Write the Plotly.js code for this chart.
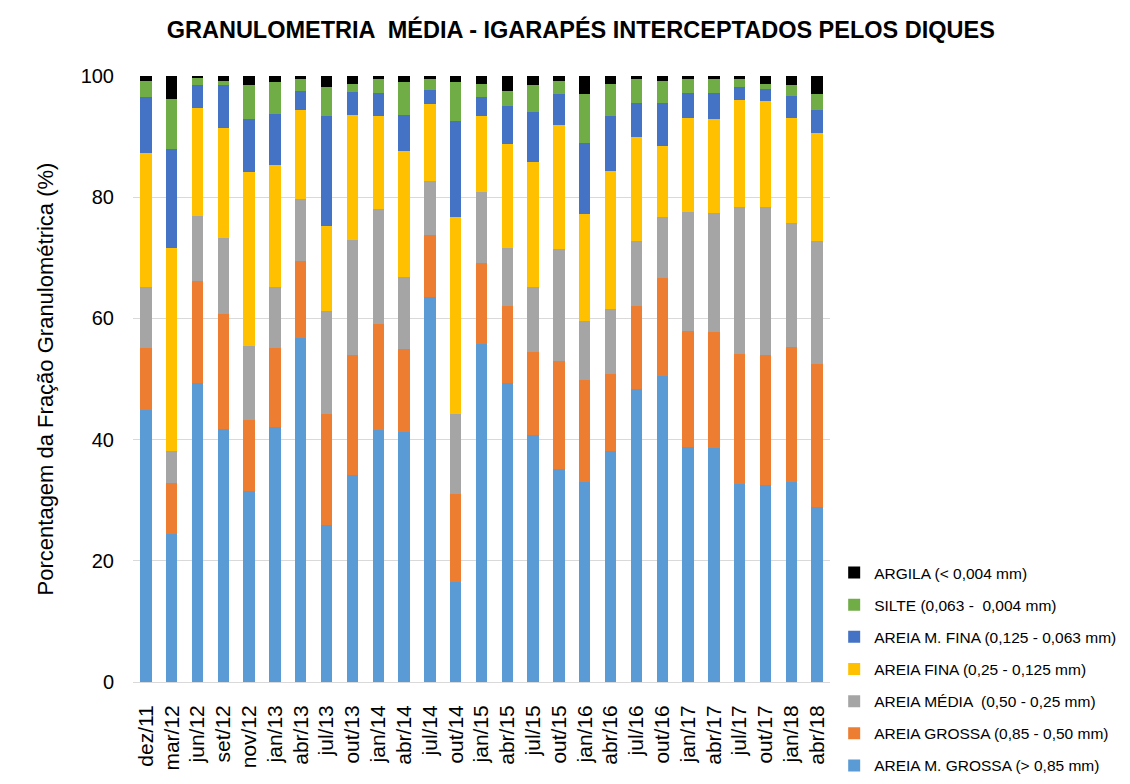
<!DOCTYPE html>
<html>
<head>
<meta charset="utf-8">
<script src="https://cdn.plot.ly/plotly-3.0.1.min.js"></script>
<style>html,body{margin:0;padding:0;background:#fff}#chart{width:1130px;height:784px}</style>
</head>
<body>
<div id="chart"></div>
<script>
const categories = ["dez/11","mar/12","jun/12","set/12","nov/12","jan/13","abr/13","jul/13","out/13","jan/14","abr/14","jul/14","out/14","jan/15","abr/15","jul/15","out/15","jan/16","abr/16","jul/16","out/16","jan/17","abr/17","jul/17","out/17","jan/18","abr/18"];

const areiaMGrossa = [44.9,24.5,49.3,41.7,31.5,42.0,56.8,25.9,34.1,41.6,41.2,63.5,16.5,55.7,49.3,40.7,35.1,33.0,38.1,48.3,50.5,38.7,38.6,32.7,32.5,33.0,28.8];
const areiaGrossa  = [10.2,8.4,16.9,19.1,11.7,13.1,12.7,18.3,19.8,17.4,13.7,10.3,14.5,13.5,12.8,13.7,17.8,16.9,12.8,13.8,16.1,19.3,19.2,21.5,21.4,22.2,23.6];
const areiaMedia   = [10.1,5.3,10.7,12.5,12.2,10.1,10.2,17.1,19.1,19.1,12.0,8.9,13.2,11.7,9.6,10.8,18.5,9.6,10.7,10.6,10.2,19.6,19.6,24.2,24.5,20.6,20.4];
const areiaFina    = [22.1,33.5,17.8,18.1,28.8,20.1,14.7,14.0,20.6,15.3,20.7,12.7,32.6,12.5,17.1,20.6,20.5,17.8,22.7,17.3,11.7,15.5,15.5,17.6,17.5,17.3,17.8];
const areiaMFina   = [9.2,16.3,3.8,7.1,8.7,8.4,3.1,18.1,3.8,3.8,6.0,2.3,15.8,3.1,6.3,8.3,5.1,11.7,9.1,5.6,7.1,4.1,4.3,2.2,2.0,3.6,3.8];
const silte        = [2.7,8.2,1.2,0.7,5.6,5.3,2.0,4.8,1.3,2.3,5.4,1.8,6.4,2.2,2.4,4.4,2.2,8.0,5.3,3.9,3.6,2.3,2.3,1.3,0.8,1.8,2.6];
const argila       = [0.8,3.8,0.5,0.8,1.5,1.0,0.5,1.8,1.3,0.5,1.0,0.5,1.0,1.3,2.5,1.5,0.8,3.0,1.3,0.5,0.8,0.5,0.5,0.5,1.3,1.5,3.0];

const seriesNames = [
  "AREIA M. GROSSA (> 0,85 mm)",
  "AREIA GROSSA (0,85 - 0,50 mm)",
  "AREIA MÉDIA  (0,50 - 0,25 mm)",
  "AREIA FINA (0,25 - 0,125 mm)",
  "AREIA M. FINA (0,125 - 0,063 mm)",
  "SILTE (0,063 -  0,004 mm)",
  "ARGILA (< 0,004 mm)"
];
const seriesValues = [areiaMGrossa, areiaGrossa, areiaMedia, areiaFina, areiaMFina, silte, argila];
const seriesColors = ["#5B9BD5","#ED7D31","#A5A5A5","#FFC000","#4472C4","#70AD47","#000000"];

const traces = seriesValues.map((vals, i) => ({
  type: "bar",
  x: categories,
  y: vals,
  name: seriesNames[i],
  legendgroup: "g" + i,
  legendrank: seriesValues.length - i,
  marker: {color: seriesColors[i], line: {width: 0}},
  hoverinfo: "x+y+name"
}));

const layout = {
  width: 1130,
  height: 784,
  barmode: "stack",
  bargap: 0.56,
  paper_bgcolor: "#ffffff",
  plot_bgcolor: "#ffffff",
  margin: {l: 133, r: 300, t: 76, b: 102, pad: 0, autoexpand: false},
  font: {family: "Liberation Sans, Arial, sans-serif", color: "#000000"},
  title: {
    text: "<b>GRANULOMETRIA  MÉDIA - IGARAPÉS INTERCEPTADOS PELOS DIQUES</b>",
    font: {size: 23.5, color: "#000000", family: "Liberation Sans, Arial, sans-serif"},
    x: 0.514, xanchor: "center", y: 0.962, yanchor: "middle"
  },
  xaxis: {
    type: "category",
    tickangle: -90,
    tickfont: {size: 21, color: "#000000"},
    showgrid: false,
    showline: false,
    zeroline: false,
    ticks: "",
    ticklabelstandoff: 18,
    automargin: false
  },
  yaxis: {
    range: [0, 100],
    dtick: 20,
    tickfont: {size: 20, color: "#000000"},
    showgrid: true,
    gridcolor: "#d9d9d9",
    gridwidth: 1,
    zeroline: true,
    zerolinecolor: "#d9d9d9",
    zerolinewidth: 1,
    showline: false,
    ticks: "",
    ticklabelstandoff: 18,
    title: {text: "Porcentagem da Fração Granulométrica (%)", font: {size: 22, color: "#000000"}, standoff: 20},
    automargin: false
  },
  legend: {
    x: 1.006, xanchor: "left",
    y: 0.208, yanchor: "top",
    yref: "paper",
    font: {size: 15.5, color: "#000000"},
    traceorder: "grouped",
    tracegroupgap: 9,
    itemwidth: 30,
    bgcolor: "rgba(0,0,0,0)"
  },
  showlegend: true
};

Plotly.newPlot("chart", traces, layout, {displayModeBar: false, responsive: false});
</script>
</body>
</html>
